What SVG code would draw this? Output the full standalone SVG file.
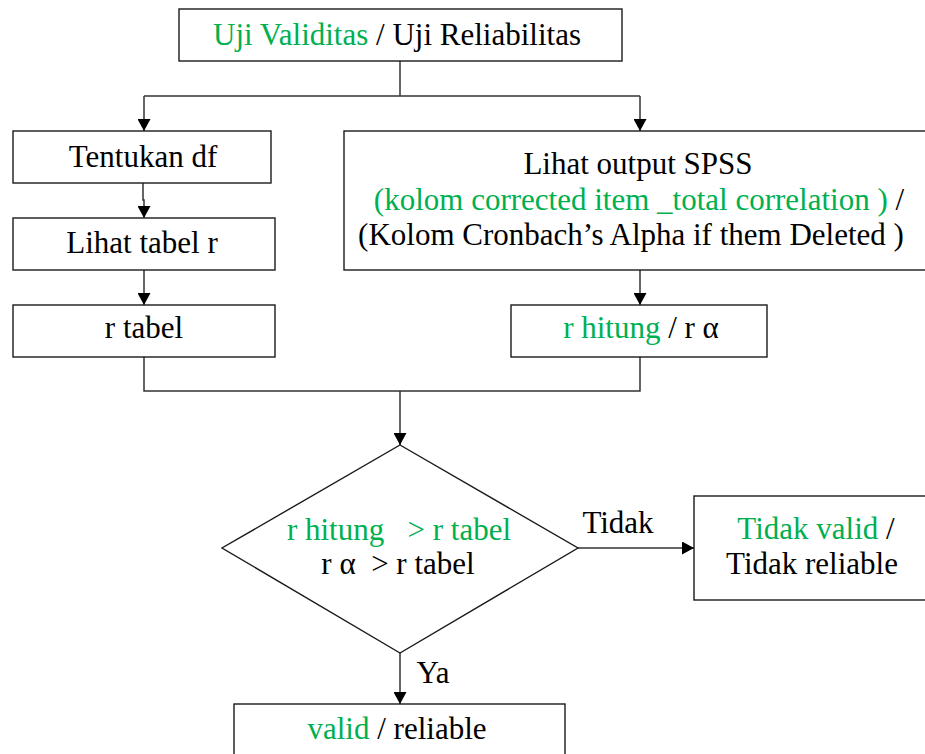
<svg xmlns="http://www.w3.org/2000/svg" width="925" height="754" viewBox="0 0 925 754">
<defs>
<style>
.box{fill:#fff;stroke:#1a1a1a;stroke-width:1.4}
.t{font-family:'Liberation Serif','Times New Roman',serif;font-size:31px;fill:#000;text-anchor:middle;white-space:pre}
.g{fill:#00B050}
.c{fill:none;stroke:#333;stroke-width:1.5}
</style>
<marker id="ah" viewBox="0 0 12 13" refX="12" refY="6.5" markerWidth="12" markerHeight="13" markerUnits="userSpaceOnUse" orient="auto">
<path d="M0,0 L12,6.5 L0,13 Z" fill="#000"/>
</marker>
</defs>
<rect width="925" height="754" fill="#fff"/>
<g id="connectors">
<path class="c" d="M400,61 V96"/>
<path class="c" d="M144,96 H640"/>
<path class="c" d="M144,96 V131" marker-end="url(#ah)"/>
<path class="c" d="M640,96 V131" marker-end="url(#ah)"/>
<path class="c" d="M143,183 V200 H144 V218" marker-end="url(#ah)"/>
<path class="c" d="M144,270 V305" marker-end="url(#ah)"/>
<path class="c" d="M640,270 V305" marker-end="url(#ah)"/>
<path class="c" d="M144,357 V391 H640 V357"/>
<path class="c" d="M400,391 V445" marker-end="url(#ah)"/>
<path class="c" d="M578,548 H694" marker-end="url(#ah)"/>
<path class="c" d="M400,653 V704" marker-end="url(#ah)"/>
<text class="t" x="618" y="533">Tidak</text>
<text class="t" x="433" y="683">Ya</text>
</g>
<g id="start">
<rect class="box" x="179" y="9" width="443" height="52"/>
<text class="t" x="397" y="45"><tspan class="g">Uji Validitas</tspan> / Uji Reliabilitas</text>
</g>
<g id="tentukan-df">
<rect class="box" x="13" y="131" width="258" height="52"/>
<text class="t" x="143" y="167">Tentukan df</text>
</g>
<g id="lihat-tabel-r">
<rect class="box" x="13" y="218" width="262" height="52"/>
<text class="t" x="142" y="253">Lihat tabel r</text>
</g>
<g id="r-tabel">
<rect class="box" x="13" y="305" width="262" height="52"/>
<text class="t" x="144" y="338">r tabel</text>
</g>
<g id="spss">
<rect class="box" x="344" y="131" width="592" height="139"/>
<text class="t" x="638" y="174">Lihat output SPSS</text>
<text class="t" x="639" y="210"><tspan class="g">(kolom corrected item _total correlation )</tspan> /</text>
<text class="t" x="631" y="245">(Kolom Cronbach’s Alpha if them Deleted )</text>
</g>
<g id="r-hitung">
<rect class="box" x="511" y="305" width="256" height="52"/>
<text class="t" x="641" y="338"><tspan class="g">r hitung</tspan> / r α</text>
</g>
<g id="decision">
<polygon class="box" points="400,445 578,548 400,653 222,548"/>
<text class="t" x="399" y="540"><tspan class="g">r hitung   &gt; r tabel</tspan></text>
<text class="t" x="398" y="574">r α  &gt; r tabel</text>
</g>
<g id="tidak-valid">
<rect class="box" x="694" y="496" width="240" height="104"/>
<text class="t" x="816" y="539"><tspan class="g">Tidak valid</tspan> /</text>
<text class="t" x="812" y="574">Tidak reliable</text>
</g>
<g id="valid">
<rect class="box" x="234" y="704" width="331" height="70"/>
<text class="t" x="397" y="739"><tspan class="g">valid</tspan> / reliable</text>
</g>
</svg>
